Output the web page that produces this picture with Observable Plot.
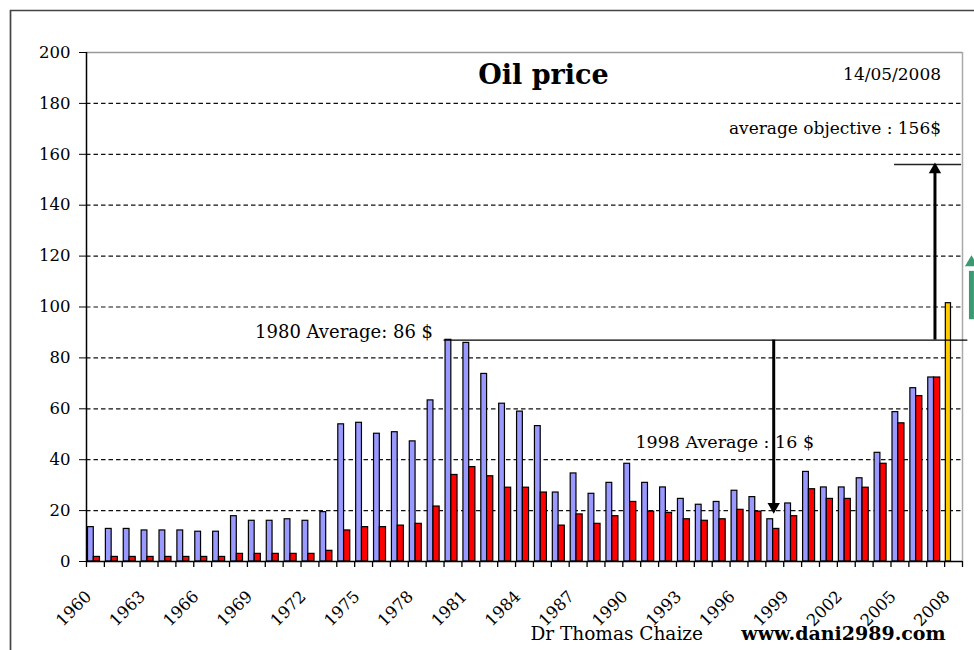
<!DOCTYPE html>
<html>
<head>
<meta charset="utf-8">
<script src="https://cdn.jsdelivr.net/npm/d3@7"></script>
<script src="https://cdn.jsdelivr.net/npm/@observablehq/plot@0.6"></script>
<style>
  body { margin: 0; background: #fff; }
  #chart svg { display: block; }
  #chart svg text { font-family: "DejaVu Serif", serif; }
</style>
</head>
<body>
<div id="chart"></div>
<script>
// ---- data ----
const years = [1960,1961,1962,1963,1964,1965,1966,1967,1968,1969,
               1970,1971,1972,1973,1974,1975,1976,1977,1978,1979,
               1980,1981,1982,1983,1984,1985,1986,1987,1988,1989,
               1990,1991,1992,1993,1994,1995,1996,1997,1998,1999,
               2000,2001,2002,2003,2004,2005,2006,2007];
// blue bars (inflation-adjusted price)
const realPrice = [13.5,12.8,12.8,12.2,12.2,12.2,11.7,11.7,17.8,16.0,
                   16.0,16.6,16.0,19.4,53.9,54.5,50.2,50.8,47.2,63.3,
                   87.1,85.9,73.7,62.0,58.9,53.2,27.1,34.6,26.6,30.9,
                   38.4,30.9,29.1,24.6,22.3,23.4,27.8,25.3,16.6,22.8,
                   35.2,29.1,29.1,32.7,42.7,58.7,68.1,72.3];
// red bars (nominal price)
const nominalPrice = [1.8,1.8,1.8,1.8,1.8,1.8,1.8,1.8,3.0,3.0,
                      3.0,3.0,3.0,4.2,12.2,13.5,13.5,14.1,14.8,21.6,
                      34.0,37.1,33.5,29.0,29.0,27.1,14.1,18.5,14.8,17.8,
                      23.4,19.6,19.1,16.6,16.0,16.6,20.3,19.6,12.8,17.8,
                      28.4,24.6,24.6,29.0,38.4,54.3,65.0,72.3];
// yellow bar (2008, to 14/05/2008)
const currentYears = [2008];
const currentPrice = [101.5];

const yTicks = [0,20,40,60,80,100,120,140,160,180,200];
const gridTicks = [20,40,60,80,100,120,140,160,180];
const labelYears = [1960,1963,1966,1969,1972,1975,1978,1981,1984,1987,1990,1993,1996,1999,2002,2005,2008];
const bandEdges = [1960,1961,1962,1963,1964,1965,1966,1967,1968,1969,
                   1970,1971,1972,1973,1974,1975,1976,1977,1978,1979,
                   1980,1981,1982,1983,1984,1985,1986,1987,1988,1989,
                   1990,1991,1992,1993,1994,1995,1996,1997,1998,1999,
                   2000,2001,2002,2003,2004,2005,2006,2007,2008,2009];

// annotations
const avg1980 = [{x1: 1980, x2: 2009.3, y: 87}];
const arrowDown = [{x: 1998.44, y1: 87, y2: 22}];
const arrowDownTip = [{x: 1998.44, y: 19}];
const arrowUp = [{x: 2007.46, y1: 87, y2: 153}];
const arrowUpTip = [{x: 2007.46, y: 156.5}];
const objective = [{x1: 2005.2, x2: 2008.95, y: 156}];
const greenArrow = [{x: 2009.5, y1: 95, y2: 114}];
const greenTip = [{x: 2009.5, y: 120}];

const blue = years.map((year, i) => ({year, value: realPrice[i]}));
const red = years.map((year, i) => ({year, value: nominalPrice[i]}));
const yellow = currentYears.map((year, i) => ({year, value: currentPrice[i]}));

const serif = "DejaVu Serif";

const chart = Plot.plot({
  width: 974,
  height: 650,
  marginLeft: 86,
  marginRight: 12,
  marginTop: 52,
  marginBottom: 89,
  x: {type: "linear", domain: [1960, 2009], axis: null},
  y: {domain: [0, 200], axis: null},
  style: {fontFamily: serif, background: "#fff", color: "#000", overflow: "visible"},
  marks: [
    Plot.gridY({ticks: gridTicks, stroke: "#111", strokeOpacity: 1, strokeWidth: 1.2, strokeDasharray: "4.5,3"}),
    Plot.ruleY([200], {stroke: "#999", strokeWidth: 1.5}),
    Plot.ruleX([2009], {stroke: "#aaa", strokeWidth: 1.5, y1: 0, y2: 200}),
    Plot.axisY({ticks: yTicks, tickSize: 7, tickPadding: 9, fontSize: 16.5, fontFamily: serif, tickFormat: d => String(d)}),
    Plot.axisX({ticks: bandEdges, tickSize: 6, tickFormat: () => "", anchor: "bottom", strokeWidth: 1.3}),
    Plot.text(labelYears, {x: d => d + 0.5, frameAnchor: "bottom", text: d => String(d), rotate: -45, textAnchor: "end", dy: 36, dx: -3, fontSize: 16.5, fontFamily: serif}),
    Plot.rectY(blue, {x: "year", y: "value", interval: 1, fill: "#9999ff", stroke: "#000", strokeWidth: 1.2, insetLeft: 1.5, insetRight: 10.6}),
    Plot.rectY(red, {x: "year", y: "value", interval: 1, fill: "#ff0000", stroke: "#000", strokeWidth: 1.2, insetLeft: 7.3, insetRight: 4.4}),
    Plot.rectY(yellow, {x: "year", y: "value", interval: 1, fill: "#ffcc00", stroke: "#000", strokeWidth: 1.2, insetLeft: 1.2, insetRight: 11.5}),
    Plot.ruleX([1960], {stroke: "#000", strokeWidth: 1.5}),
    Plot.ruleY([0], {stroke: "#000", strokeWidth: 1.5}),
    // annotation lines
    Plot.ruleY(avg1980, {x1: "x1", x2: "x2", y: "y", stroke: "#000", strokeWidth: 1.3}),
    Plot.ruleY(objective, {x1: "x1", x2: "x2", y: "y", stroke: "#222", strokeWidth: 1.3}),
    // texts
    Plot.text(["Oil price"], {x: 1985.56, y: 191, fontSize: 27, fontWeight: "bold", fontFamily: serif}),
    Plot.text(["14/05/2008"], {x: 2007.8, y: 191.5, textAnchor: "end", fontSize: 17, fontFamily: serif}),
    Plot.text(["average objective : 156$"], {x: 2007.8, y: 170.2, textAnchor: "end", fontSize: 17, fontFamily: serif}),
    Plot.text(["1980 Average: 86 $"], {x: 1980, y: 87, textAnchor: "end", lineAnchor: "bottom", dx: -11, dy: -2, fontSize: 18, fontFamily: serif}),
    Plot.text(["1998 Average : 16 $"], {x: 1995.7, y: 46.8, fontSize: 17.5, fontFamily: serif}),
    // arrows
    Plot.ruleX(arrowDown, {x: "x", y1: "y1", y2: "y2", stroke: "#000", strokeWidth: 3}),
    Plot.dot(arrowDownTip, {x: "x", y: "y", symbol: "triangle", rotate: 180, r: 4.6, fill: "#000", dy: -6.5}),
    Plot.ruleX(arrowUp, {x: "x", y1: "y1", y2: "y2", stroke: "#000", strokeWidth: 3}),
    Plot.dot(arrowUpTip, {x: "x", y: "y", symbol: "triangle", r: 4.6, fill: "#000", dy: 6.5}),
    Plot.ruleX(greenArrow, {x: "x", y1: "y1", y2: "y2", stroke: "#3a9a72", strokeWidth: 5}),
    Plot.dot(greenTip, {x: "x", y: "y", symbol: "triangle", r: 4.8, fill: "#3a9a72", dy: 6.5}),
    // footer
    Plot.text(["Dr Thomas Chaize"], {x: 1984.83, frameAnchor: "bottom", dy: 78, textAnchor: "start", fontSize: 18.5, fontFamily: serif}),
    Plot.text(["www.dani2989.com"], {x: 1996.63, frameAnchor: "bottom", dy: 78, textAnchor: "start", fontSize: 19, fontWeight: "bold", fontFamily: serif})
  ]
});

// outer frame of the picture
d3.select(chart).append("path")
  .attr("d", "M10.5,650V10.5H974")
  .attr("fill", "none")
  .attr("stroke", "#444")
  .attr("stroke-width", 1.7);

document.getElementById("chart").append(chart);
</script>
</body>
</html>
